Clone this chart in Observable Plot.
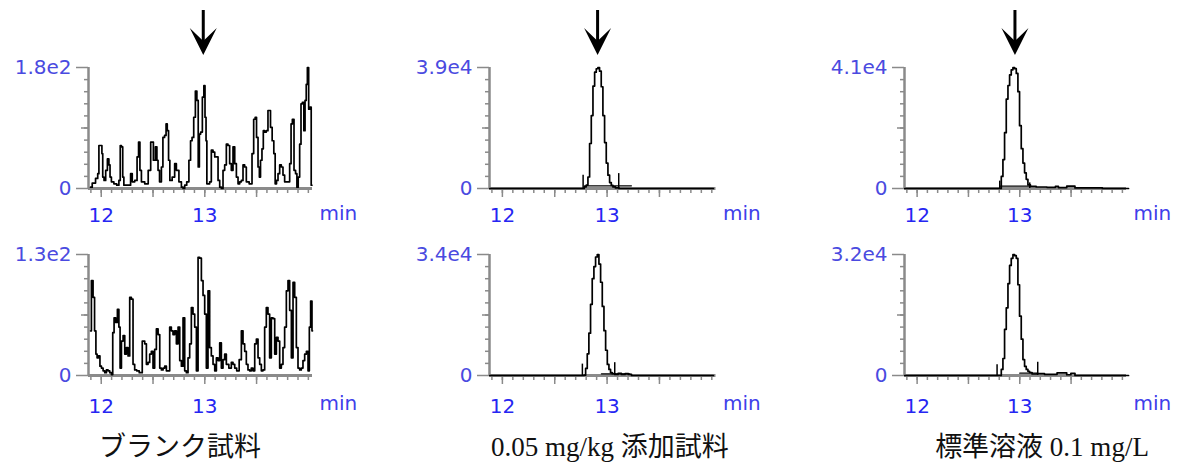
<!DOCTYPE html>
<html><head><meta charset="utf-8">
<script src="https://cdn.jsdelivr.net/npm/d3@7"></script>
<script src="https://cdn.jsdelivr.net/npm/@observablehq/plot@0.6"></script>
<style>
body{margin:0;background:#fff}
#c{position:relative;width:1184px;height:466px;overflow:hidden;background:#fff}
.p{position:absolute}
.cap{position:absolute;top:432px;line-height:30px;font-family:"Liberation Serif","Noto Sans CJK JP",serif;font-size:27px;color:#111;transform:translateX(-50%);white-space:nowrap}
</style></head><body><div id="c"></div><script>
// ---- data (retention time in min, intensity) ----
const blankTop = [[11.897,2],[11.929,8],[11.961,15],[11.971,22],[11.984,64],[12.003,64],[12.010,52],[12.019,17],[12.035,12],[12.051,27],[12.068,44],[12.080,35],[12.090,17],[12.106,10],[12.138,7],[12.161,5],[12.180,12],[12.187,64],[12.203,62],[12.212,17],[12.225,5],[12.277,5],[12.290,22],[12.309,10],[12.338,12],[12.354,47],[12.367,69],[12.380,27],[12.396,10],[12.444,7],[12.463,27],[12.492,69],[12.515,42],[12.531,62],[12.544,42],[12.553,27],[12.573,10],[12.589,32],[12.602,76],[12.621,79],[12.631,96],[12.644,86],[12.656,42],[12.669,12],[12.701,17],[12.717,37],[12.734,27],[12.766,10],[12.782,2],[12.798,0],[12.814,5],[12.837,10],[12.856,42],[12.869,71],[12.885,76],[12.901,106],[12.917,145],[12.930,131],[12.943,32],[12.952,81],[12.968,84],[12.985,136],[12.997,153],[13.007,106],[13.017,71],[13.023,7],[13.039,7],[13.055,10],[13.071,57],[13.088,54],[13.104,47],[13.120,47],[13.136,12],[13.152,2],[13.168,0],[13.184,27],[13.200,35],[13.216,66],[13.232,64],[13.248,37],[13.264,27],[13.281,62],[13.297,37],[13.313,17],[13.329,7],[13.345,10],[13.361,12],[13.377,35],[13.393,32],[13.409,10],[13.448,7],[13.464,52],[13.480,103],[13.493,106],[13.506,76],[13.522,32],[13.532,17],[13.544,42],[13.560,59],[13.570,86],[13.586,84],[13.602,86],[13.618,116],[13.628,116],[13.641,91],[13.660,71],[13.673,52],[13.686,7],[13.699,12],[13.715,22],[13.731,35],[13.747,32],[13.763,20],[13.779,10],[13.811,10],[13.828,37],[13.838,96],[13.853,103],[13.870,27],[13.883,22],[13.896,2],[13.908,17],[13.924,66],[13.934,126],[13.950,128],[13.963,86],[13.973,131],[13.986,155],[13.995,180],[14.011,118],[14.021,121],[14.034,5]];
const blankBottom = [[11.897,48],[11.913,102],[11.929,84],[11.942,48],[11.955,23],[11.965,19],[11.981,21],[11.994,10],[12.010,8],[12.026,5],[12.042,3],[12.058,6],[12.074,5],[12.090,3],[12.106,1],[12.116,46],[12.132,62],[12.148,57],[12.164,71],[12.177,52],[12.187,8],[12.203,37],[12.219,43],[12.235,23],[12.251,30],[12.267,21],[12.283,84],[12.299,82],[12.315,12],[12.331,6],[12.354,5],[12.380,3],[12.412,37],[12.428,34],[12.444,12],[12.460,14],[12.476,23],[12.492,26],[12.508,8],[12.524,28],[12.541,50],[12.557,44],[12.573,8],[12.589,6],[12.605,8],[12.621,10],[12.637,5],[12.653,5],[12.669,52],[12.685,48],[12.701,44],[12.717,48],[12.734,34],[12.750,52],[12.766,16],[12.782,10],[12.798,62],[12.814,5],[12.830,3],[12.846,19],[12.862,34],[12.878,73],[12.894,66],[12.911,52],[12.927,5],[12.943,127],[12.959,126],[12.975,102],[12.991,86],[13.007,66],[13.023,8],[13.039,91],[13.055,30],[13.071,21],[13.088,12],[13.104,5],[13.120,19],[13.136,16],[13.152,35],[13.168,8],[13.184,17],[13.200,23],[13.216,12],[13.248,8],[13.264,14],[13.281,12],[13.297,8],[13.319,5],[13.345,17],[13.361,48],[13.377,34],[13.393,26],[13.409,12],[13.425,6],[13.441,5],[13.457,8],[13.474,5],[13.490,34],[13.506,39],[13.522,19],[13.538,12],[13.554,5],[13.570,6],[13.586,52],[13.602,73],[13.618,66],[13.634,19],[13.651,62],[13.667,61],[13.683,23],[13.699,41],[13.715,37],[13.731,8],[13.747,12],[13.763,30],[13.779,52],[13.796,91],[13.811,102],[13.828,70],[13.844,19],[13.860,100],[13.876,84],[13.892,30],[13.908,8],[13.924,6],[13.940,8],[13.956,16],[13.973,23],[13.989,26],[14.005,5],[14.014,52],[14.030,80],[14.040,48]];
const spikedTop = [[11.88,0],[12.771,0],[12.793,540],[12.809,1100],[12.825,3700],[12.841,14500],[12.857,23500],[12.873,33000],[12.889,37500],[12.904,38600],[12.920,39000],[12.936,37800],[12.952,32800],[12.968,23500],[12.984,14800],[13.000,8200],[13.016,4300],[13.032,1900],[13.048,1000],[13.064,500],[13.096,200],[13.130,0],[14.015,0]];
const spikedBottom = [[11.88,0],[12.771,0],[12.787,100],[12.803,2000],[12.818,6100],[12.834,11900],[12.850,20000],[12.866,27200],[12.882,30600],[12.898,33300],[12.914,34000],[12.930,31300],[12.946,26200],[12.962,19400],[12.978,12600],[12.994,7100],[13.010,3100],[13.025,1700],[13.041,800],[13.057,500],[13.090,300],[13.120,600],[13.153,300],[13.190,500],[13.217,300],[13.250,0],[14.015,0]];
const standardTop = [[11.88,0],[12.812,0],[12.828,4100],[12.844,9800],[12.860,18900],[12.877,30300],[12.893,34900],[12.909,38500],[12.925,40200],[12.942,41000],[12.958,40600],[12.974,39000],[12.990,32800],[13.006,21300],[13.023,13500],[13.039,8600],[13.055,5300],[13.071,3100],[13.088,1200],[13.120,700],[13.200,500],[13.331,400],[13.364,700],[13.390,300],[13.526,800],[13.550,200],[14.06,0]];
const standardBottom = [[11.88,0],[12.812,0],[12.828,1600],[12.844,4500],[12.860,12200],[12.877,17900],[12.893,24300],[12.909,29100],[12.925,31000],[12.942,32000],[12.958,31700],[12.974,31000],[12.990,24000],[13.006,15700],[13.023,9600],[13.039,4200],[13.055,2400],[13.071,1600],[13.088,1100],[13.104,800],[13.136,400],[13.200,500],[13.282,300],[13.445,700],[13.470,200],[13.526,600],[13.550,0],[14.06,0]];

// integration start/end markers [time, height] and baselines [[t1,v],[t2,v]]
const markers = [[], [], [[12.771,4300],[13.111,4800]], [[12.764,3200],[13.073,3600]], [[12.805,2500],[13.097,1900]], [[12.779,2850],[13.175,3500]]];
const baselines = [null, null, [[12.785,850],[13.232,850]], [[12.946,480],[13.217,480]], [[12.812,800],[13.097,800]], [[13.000,620],[13.175,620]]];

const yMaxValues = [180, 130, 39000, 34000, 41000, 32000];
const yMaxLabels = ["1.8e2", "1.3e2", "3.9e4", "3.4e4", "4.1e4", "3.2e4"];
const arrowTimes = [12.99, 12.914, 12.958];
const xTickLabels = [12, 13];
const captions = ["ブランク試料", "0.05 mg/kg 添加試料", "標準溶液 0.1 mg/L"];
const traces = [blankTop, blankBottom, spikedTop, spikedBottom, standardTop, standardBottom];

// ---- layout ----
const xDomain = [11.877, 14.04];
const cols = [{left: 0, w: 224, cap: 180}, {left: 401, w: 226.5, cap: 610}, {left: 816, w: 222, cap: 1042}];
const rows = [{top: 0, labelDy: 27, minDy: 25}, {top: 187, labelDy: 31, minDy: 28}];
const gray = "#8a8a8a", yBlue = "#4a4ae0", xBlue = "#2626f2", minBlue = "#4040ea";
const font = "DejaVu Sans";
const minorX = d3.range(119, 141).map(d => d / 10);
const majorX = [12, 12.5, 13, 13.5];

function arrowMark(t) {
  return (index, scales, values, dims) => {
    const x = scales.x(t), top = dims.marginTop;
    const g = d3.create("svg:g");
    g.append("line").attr("x1", x).attr("x2", x).attr("y1", top - 57).attr("y2", top - 26)
      .attr("stroke", "black").attr("stroke-width", 3);
    g.append("path").attr("d", `M${x},${top - 12}L${x - 13.5},${top - 39}L${x},${top - 26}L${x + 13.5},${top - 39}Z`)
      .attr("fill", "black");
    return g.node();
  };
}

const container = document.getElementById("c");
for (let ci = 0; ci < 3; ci++) {
  for (let ri = 0; ri < 2; ri++) {
    const k = ci * 2 + ri, col = cols[ci], row = rows[ri];
    const yMax = yMaxValues[k];
    const tenths = d3.range(1, 10).map(i => yMax * i / 10);
    const marks = [
      Plot.axisY({ticks: tenths, tickSize: 4, stroke: gray, strokeWidth: 1.5, fill: "none", label: null}),
      Plot.axisY({ticks: [yMax / 2], tickSize: 7, stroke: gray, strokeWidth: 1.5, fill: "none", label: null}),
      Plot.axisY({ticks: [0, yMax], tickSize: 12, tickPadding: 5, stroke: gray, strokeWidth: 1.5, fill: yBlue,
        tickFormat: d => d === 0 ? "0" : yMaxLabels[k], fontSize: 20, fontFamily: font, label: null}),
      Plot.axisX({ticks: minorX, tickSize: 5, stroke: gray, strokeWidth: 1.5, fill: "none", label: null}),
      Plot.axisX({ticks: majorX, tickSize: 9, stroke: gray, strokeWidth: 1.5, fill: "none", label: null}),
      Plot.text(xTickLabels, {x: d => d, y: () => 0, text: d => String(d), dy: row.labelDy, fill: xBlue, fontSize: 20, fontFamily: font}),
      Plot.text(["min"], {x: () => xDomain[1], y: () => 0, text: d => d, dx: 7, dy: row.minDy, textAnchor: "start", fill: minBlue, fontSize: 20, fontFamily: font}),
      Plot.ruleX([xDomain[0]], {x: d => d, stroke: gray, strokeWidth: 2.5}),
      Plot.ruleY([0], {y: d => d, stroke: gray, strokeWidth: 3}),
      Plot.ruleX(markers[k], {x: d => d[0], y1: () => 0, y2: d => d[1], stroke: "black", strokeWidth: 1.5}),
    ];
    if (baselines[k]) marks.push(Plot.line(baselines[k], {x: d => d[0], y: d => d[1], stroke: "black", strokeWidth: 1.3}));
    marks.push(Plot.line(traces[k], {x: d => d[0], y: d => d[1], curve: "step", stroke: "black", strokeWidth: 1.7}));
    if (ri === 0) marks.push(arrowMark(arrowTimes[ci]));
    const chart = Plot.plot({
      width: 88 + col.w + 62, height: 230,
      marginLeft: 88, marginRight: 62, marginTop: 67, marginBottom: 42,
      x: {domain: xDomain, axis: null},
      y: {domain: [0, yMax], axis: null},
      style: {fontFamily: font, background: "transparent", overflow: "visible"},
      marks
    });
    chart.classList.add("p");
    chart.style.left = col.left + "px";
    chart.style.top = row.top + "px";
    container.appendChild(chart);
  }
  const cap = document.createElement("div");
  cap.className = "cap";
  cap.style.left = cols[ci].cap + "px";
  cap.textContent = captions[ci];
  container.appendChild(cap);
}
</script></body></html>
